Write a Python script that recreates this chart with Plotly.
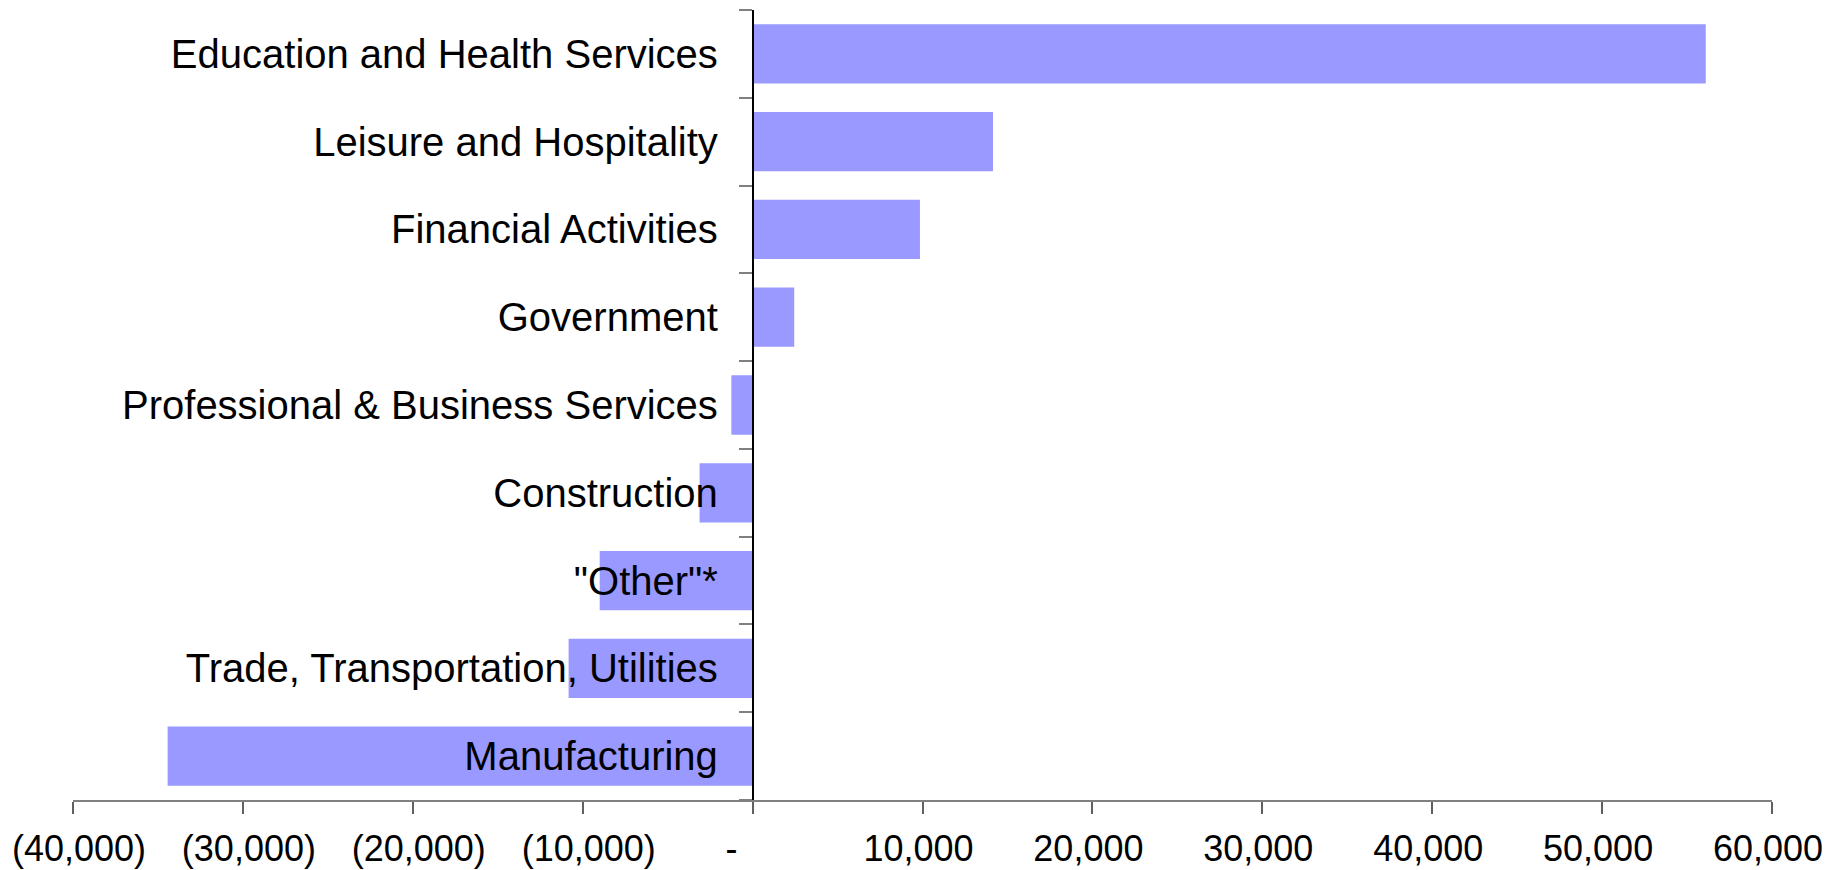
import plotly.graph_objects as go

categories = [
    "Education and Health Services",
    "Leisure and Hospitality",
    "Financial Activities",
    "Government",
    "Professional & Business Services",
    "Construction",
    "\"Other\"*",
    "Trade, Transportation, Utilities",
    "Manufacturing",
]
values = [56100, 14150, 9850, 2450, -1250, -3120, -9000, -10830, -34430]

tick_vals = [-40000, -30000, -20000, -10000, 0, 10000, 20000, 30000, 40000, 50000, 60000]
tick_text = ["(40,000)", "(30,000)", "(20,000)", "(10,000)", "-",
             "10,000", "20,000", "30,000", "40,000", "50,000", "60,000"]

# accounting-style padding (Excel "_)" / "-??" alignment)
FS, TS = "\u2007", "\u2009"
tick_disp = []
for v, t in zip(tick_vals, tick_text):
    if v > 0:
        tick_disp.append(t + FS)
    elif v == 0:
        tick_disp.append(t + FS + FS + TS + TS)
    else:
        tick_disp.append(t)

fig = go.Figure(go.Bar(
    x=values, y=categories, orientation="h",
    marker=dict(color="#9999FF", line=dict(width=0)),
))

font = dict(family="Liberation Sans, Arial, sans-serif", size=40, color="black")
xfont = dict(family="Liberation Sans, Arial, sans-serif", size=36, color="black")

fig.update_layout(
    width=1844, height=870,
    margin=dict(l=65, r=80, t=2, b=78),
    paper_bgcolor="white", plot_bgcolor="white",
    bargap=0.325,
    showlegend=False,
    font=font,
    xaxis=dict(
        range=[-40000, 60000],
        tickvals=tick_vals, ticktext=tick_disp,
        ticks="outside", ticklen=12, tickcolor="#606060", tickwidth=1.5,
        showline=True, linecolor="#808080", linewidth=2,
        showgrid=False, zeroline=False,
        ticklabelstandoff=4,
        ticklabelshift=6,
        ticklabeloverflow="allow",
        automargin=False,
        tickfont=xfont,
    ),
    yaxis=dict(
        categoryorder="array", categoryarray=categories[::-1],
        range=[-0.5, 8.5],
        anchor="free", position=0.4, side="left",
        showline=True, linecolor="black", linewidth=1.5,
        ticks="outside", tickson="boundaries", ticklen=13, tickcolor="#808080", tickwidth=2,
        showgrid=False, zeroline=False,
        ticklabelstandoff=26,
        automargin=False,
        tickfont=font,
    ),
)

fig.write_html("out.html")
